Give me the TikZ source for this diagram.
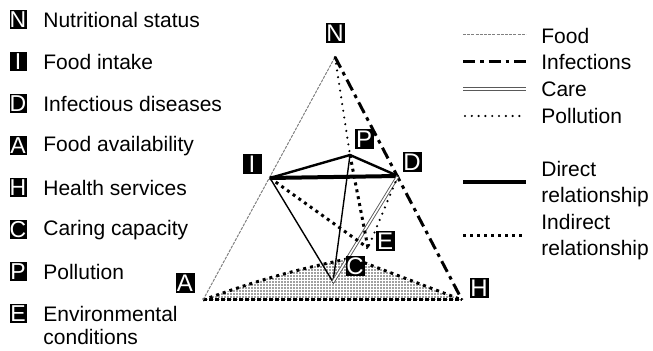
\documentclass[tikz,border=0pt]{standalone}
\usepackage{fontspec}
\setmainfont{Liberation Sans}
\usetikzlibrary{patterns.meta}

\tikzset{
  lbl/.style={fill=black, text=white, inner sep=0pt, minimum width=9.5pt, minimum height=10pt, font=\fontsize{12}{12}\selectfont},
  keybox/.style={lbl, minimum width=8.5pt, minimum height=9.5pt, font=\fontsize{11.5}{11.5}\selectfont},
  txt/.style={anchor=west, inner sep=0pt, align=left, font=\fontsize{10.5}{13}\selectfont},
  food/.style={draw=gray, line width=0.5pt, dash pattern=on 1.5pt off 0.6pt},
  infect/.style={line width=1.5pt, dash pattern=on 6pt off 2.5pt on 1.8pt off 2.5pt},
  care/.style={draw=black!65, double=white, double distance=0.8pt, line width=0.45pt},
  pollut/.style={line width=1.2pt, line cap=round, dash pattern=on 0pt off 3.4pt},
  direct/.style={line width=2pt},
  indirect/.style={line width=1.5pt, dash pattern=on 1.5pt off 2pt},
}

\begin{document}
\begin{tikzpicture}[x=0.5pt, y=-0.5pt]
  \useasboundingbox (0,0) rectangle (653,351) ;

  % corners of the pyramid
  \coordinate (n) at (335,57) ;
  \coordinate (i) at (270,178) ;
  \coordinate (d) at (398,176) ;
  \coordinate (p) at (350,155) ;
  \coordinate (a) at (203,300) ;
  \coordinate (h) at (462,300) ;
  \coordinate (c) at (333,282) ;
  \coordinate (e) at (368,248) ;
  \coordinate (top) at (352,258) ;

  % shaded base
  \fill [pattern={Dots[distance=1.5pt, radius=0.42pt]}, pattern color=black!75]
    (a) to[bend left=4] (top) -- (h) -- cycle ;
  \draw [indirect] (a) to[bend left=4] (top) -- (h) ;
  \draw [indirect, dash pattern=on 2pt off 1pt] (a) -- (h) ;

  % relationships
  \draw [food] (a) -- (n) ;
  \draw [infect] (n) -- (h) ;
  \draw [pollut] (n) -- (p) ;
  \draw [direct] (i) -- (d) ;
  \draw [line width=1.2pt] (i) -- (p) -- (d) ;
  \draw [line width=0.7pt] (i) -- (c) -- (p) ;
  \draw [care] (d) -- (c) ;
  \draw [indirect] (i) -- (e) ;
  \draw [indirect] (p) -- (e) ;
  \draw [pollut] (d) -- (e) ;

  % letters
  \node [lbl] (lN) at (335,33) {N} ;
  \node [lbl] (lI) at (252,164) {I} ;
  \node [lbl] (lD) at (412,162) {D} ;
  \node [lbl] (lP) at (364,139) {P} ;
  \node [lbl] (lA) at (185,283) {A} ;
  \node [lbl] (lH) at (479,288) {H} ;
  \node [lbl] (lC) at (355,266) {C} ;
  \node [lbl] (lE) at (385,241) {E} ;

  % key, left
  \node [keybox] (kN) at (18,20) {N} ;
  \node [txt] (tN) at (43,20) {Nutritional status} ;
  \node [keybox] (kI) at (18,62) {I} ;
  \node [txt] (tI) at (43,62) {Food intake} ;
  \node [keybox] (kD) at (18,104) {D} ;
  \node [txt] (tD) at (43,104) {Infectious diseases} ;
  \node [keybox] (kA) at (18,146) {A} ;
  \node [txt] (tA) at (43,146) {Food availability} ;
  \node [keybox] (kH) at (18,188) {H} ;
  \node [txt] (tH) at (43,188) {Health services} ;
  \node [keybox] (kC) at (18,230) {C} ;
  \node [txt] (tC) at (43,230) {Caring capacity} ;
  \node [keybox] (kP) at (18,272) {P} ;
  \node [txt] (tP) at (43,272) {Pollution} ;
  \node [keybox] (kE) at (18,314) {E} ;
  \node [txt] (tE) at (43,314) {Environmental} ;
  \node [txt] (tE2) at (43,337) {conditions} ;

  % key, right
  \draw [food] (463,35) -- (526,35) ;
  \node [txt] (tFood) at (541,36) {Food} ;
  \draw [infect] (463,62) -- (526,62) ;
  \node [txt] (tInf) at (541,62) {Infections} ;
  \draw [care] (463,89) -- (526,89) ;
  \node [txt] (tCare) at (541,89) {Care} ;
  \draw [pollut] (465,116) -- (526,116) ;
  \node [txt] (tPol) at (541,116) {Pollution} ;
  \draw [direct] (463,182) -- (526,182) ;
  \node [txt] (tDir) at (541,184) {Direct\\relationship} ;
  \draw [indirect] (463,236) -- (526,236) ;
  \node [txt] (tInd) at (541,237) {Indirect\\relationship} ;
\end{tikzpicture}
\end{document}
